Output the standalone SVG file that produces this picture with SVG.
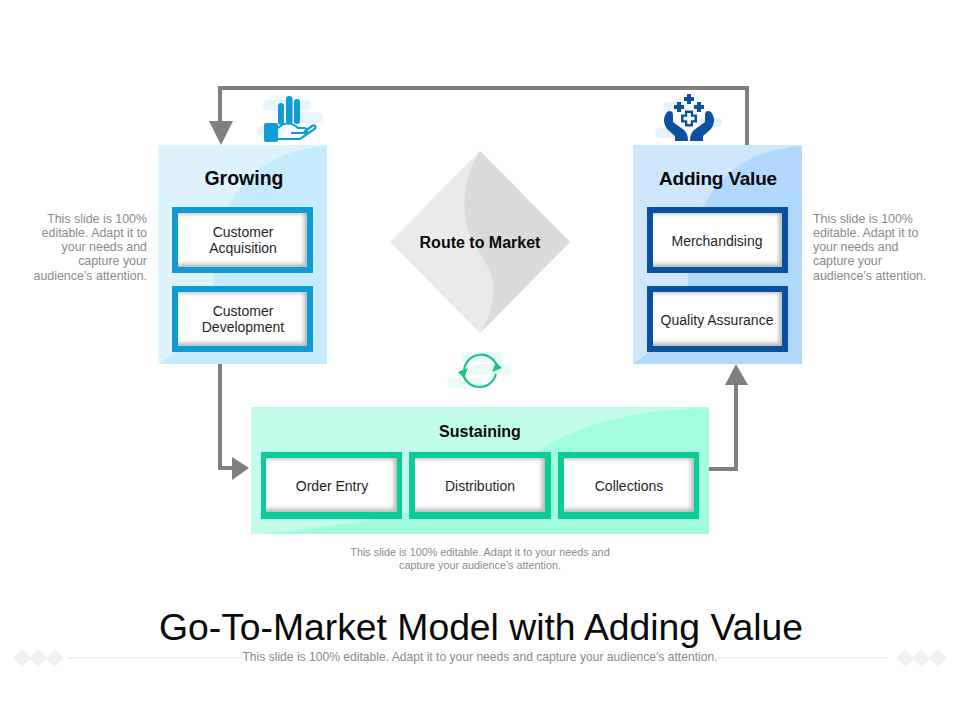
<svg xmlns="http://www.w3.org/2000/svg" width="960" height="720" viewBox="0 0 960 720">
<style>
text{font-family:"Liberation Sans",Arial,sans-serif;text-anchor:middle}
.h{font-size:19.500px;font-weight:700;fill:#0a0a0a}
.b{font-size:14px;fill:#1f1f1f}
.n{font-size:12.400px;fill:#8a8a8a}
.s{font-size:10.800px;fill:#8a8a8a}
.m{font-size:16px;font-weight:700;fill:#0a0a0a}
.con{fill:none;stroke:#7f7f7f;stroke-width:4}
.tip{fill:#7f7f7f}
.inner{fill:#fff;filter:url(#soft)}
.deco{fill:#f0f0f0}
.shade{fill:#b8b8b8}
</style>
<defs>
<filter id="soft" x="-10%" y="-20%" width="120%" height="140%"><feGaussianBlur stdDeviation="2"/></filter>
</defs>
<rect width="960" height="720" fill="#fff"/>

<g id="growing">
<rect x="158" y="145" width="169" height="219" fill="#dff3fd"/>
<path d="M327 146C262 150 213 190 213 285C213 320 180 350 158 364H327Z" fill="#c6ebfd"/>
<text class="h" x="244" y="185">Growing</text>
<g fill="#e8f4fb"><rect x="263" y="100" width="48" height="11" rx="5.500"/><rect x="290" y="112" width="33" height="11" rx="5.500"/><rect x="257" y="126" width="28" height="10" rx="5"/></g>
<g fill="#0f9bd7">
<rect x="278" y="103" width="6" height="22" rx="3"/><rect x="286" y="96" width="6.500" height="28" rx="3.200"/><rect x="294" y="99" width="6" height="25" rx="3"/>
<rect x="264" y="123" width="14" height="19" rx="2"/>
</g>
<path d="M278 128C284 122 292 122 298 128H304C308 128 308 133 304 133H291M304 132L312 126C316 124 317 128 313 130L300 139H278" fill="none" stroke="#0f9bd7" stroke-width="2.200"/>
</g>

<g id="customer-acquisition">
<rect x="172" y="207" width="141" height="66" fill="#0f9bd7"/>
<rect class="shade" x="178" y="213" width="129" height="54"/>
<clipPath id="c1"><rect x="178" y="213" width="129" height="54"/></clipPath>
<g clip-path="url(#c1)"><rect class="inner" x="172" y="214" width="132" height="50"/></g>
<text class="b" x="243" y="237">Customer</text><text class="b" x="243" y="253">Acquisition</text>
</g>
<g id="customer-development">
<rect x="172" y="286" width="141" height="66" fill="#0f9bd7"/>
<rect class="shade" x="178" y="292" width="129" height="54"/>
<clipPath id="c2"><rect x="178" y="292" width="129" height="54"/></clipPath>
<g clip-path="url(#c2)"><rect class="inner" x="172" y="293" width="132" height="50"/></g>
<text class="b" x="243" y="316">Customer</text><text class="b" x="243" y="332">Development</text>
</g>

<g id="adding-value">
<rect x="633" y="145" width="169" height="219" fill="#cfe6fd"/>
<path d="M802 146C737 150 688 190 688 285C688 320 655 350 633 364H802Z" fill="#b2d9fc"/>
<text class="h" x="718" y="185" style="font-size:19px;letter-spacing:-.2px">Adding Value</text>
<g fill="#e8f1fa"><rect x="663" y="102" width="22" height="9" rx="4.500"/><rect x="700" y="118" width="22" height="9" rx="4.500"/><rect x="655" y="128" width="22" height="10" rx="5"/></g>
<path d="M689 94v10M684 99h10M679 102v10M674 107h10M699 102v10M694 107h10" fill="none" stroke="#0c519f" stroke-width="4"/>
<path d="M689 110.500v16M681 118.500h16" fill="none" stroke="#0c519f" stroke-width="8"/>
<path d="M689 113v11M683.500 118.500h11" fill="none" stroke="#fff" stroke-width="3.500"/>
<path d="M667 112C670 110 673 111 673 115V122L684 130C687 133 688 136 688 141H675V136L667 129C663 123 663 117 667 112ZM711 112C708 110 705 111 705 115V122L694 130C691 133 690 136 690 141H703V136L711 129C715 123 715 117 711 112Z" fill="#0c519f"/>
</g>

<g id="merchandising">
<rect x="647" y="207" width="141" height="66" fill="#07519f"/>
<rect class="shade" x="653" y="213" width="129" height="54"/>
<clipPath id="c3"><rect x="653" y="213" width="129" height="54"/></clipPath>
<g clip-path="url(#c3)"><rect class="inner" x="647" y="214" width="132" height="50"/></g>
<text class="b" x="717" y="246">Merchandising</text>
</g>
<g id="quality-assurance">
<rect x="647" y="286" width="141" height="66" fill="#07519f"/>
<rect class="shade" x="653" y="292" width="129" height="54"/>
<clipPath id="c4"><rect x="653" y="292" width="129" height="54"/></clipPath>
<g clip-path="url(#c4)"><rect class="inner" x="647" y="293" width="132" height="50"/></g>
<text class="b" x="717" y="325">Quality Assurance</text>
</g>

<g id="route-to-market">
<path d="M480 151L570 242L480 333L390 242Z" fill="#eaeaea"/>
<path d="M480 151L570 242L480 333C487 322 495 305 493 283C490 260 472 250 466 222C462 200 465 175 480 151Z" fill="#dadada"/>
<text class="m" x="480" y="248">Route to Market</text>
</g>

<g id="sustaining">
<rect x="251" y="407" width="458" height="127" fill="#c2fde9"/>
<path d="M709 408C620 410 560 430 520 465C480 500 400 520 262 534H709Z" fill="#a2fde0"/>
<text class="m" x="480" y="437">Sustaining</text>
</g>
<g id="cycle-icon">
<g fill="#eafbf6"><rect x="460" y="352" width="44" height="10" rx="5"/><rect x="470" y="364" width="42" height="11" rx="5.500"/><rect x="447" y="378" width="36" height="10" rx="5"/></g>
<path d="M464 372A17 17 0 0 1 497 366M496 374A17 17 0 0 1 463 374" fill="none" stroke="#17c297" stroke-width="2.200"/>
<path d="M492 372L496 362L502 368ZM468 368L464 378L458 372Z" fill="#17c297"/>
</g>

<g id="order-entry">
<rect x="261" y="452" width="141" height="67" fill="#0ccb97"/>
<rect class="shade" x="266" y="458" width="131" height="54"/>
<clipPath id="c5"><rect x="266" y="458" width="131" height="54"/></clipPath>
<g clip-path="url(#c5)"><rect class="inner" x="260" y="459" width="134" height="50"/></g>
<text class="b" x="332" y="491">Order Entry</text>
</g>
<g id="distribution">
<rect x="409" y="452" width="142" height="67" fill="#0ccb97"/>
<rect class="shade" x="415" y="458" width="130" height="54"/>
<clipPath id="c6"><rect x="415" y="458" width="130" height="54"/></clipPath>
<g clip-path="url(#c6)"><rect class="inner" x="409" y="459" width="133" height="50"/></g>
<text class="b" x="480" y="491">Distribution</text>
</g>
<g id="collections">
<rect x="558" y="452" width="141" height="67" fill="#0ccb97"/>
<rect class="shade" x="564" y="458" width="130" height="54"/>
<clipPath id="c7"><rect x="564" y="458" width="130" height="54"/></clipPath>
<g clip-path="url(#c7)"><rect class="inner" x="558" y="459" width="133" height="50"/></g>
<text class="b" x="629" y="491">Collections</text>
</g>

<g id="connectors">
<path class="con" d="M747 145V88H220V124"/>
<path class="tip" d="M209 121H233L221 145Z"/>
<path class="con" d="M220 364V468H234"/>
<path class="tip" d="M232 457L249 468L232 480Z"/>
<path class="con" d="M709 469H736V384"/>
<path class="tip" d="M725 385L736 364L748 385Z"/>
</g>

<g id="notes">
<text class="n" x="147" y="223" style="text-anchor:end">This slide is 100%</text>
<text class="n" x="147" y="237" style="text-anchor:end">editable. Adapt it to</text>
<text class="n" x="147" y="251" style="text-anchor:end">your needs and</text>
<text class="n" x="147" y="265" style="text-anchor:end">capture your</text>
<text class="n" x="147" y="280" style="text-anchor:end">audience’s attention.</text>
<text class="n" x="813" y="223" style="text-anchor:start">This slide is 100%</text>
<text class="n" x="813" y="237" style="text-anchor:start">editable. Adapt it to</text>
<text class="n" x="813" y="251" style="text-anchor:start">your needs and</text>
<text class="n" x="813" y="265" style="text-anchor:start">capture your</text>
<text class="n" x="813" y="280" style="text-anchor:start">audience’s attention.</text>
<text class="s" x="480" y="556">This slide is 100% editable.  Adapt it to your needs and</text>
<text class="s" x="480" y="569">capture your audience’s attention.</text>
</g>

<g id="title">
<path class="deco" d="M68 657H242V659H68ZM717 657H888V659H717Z"/>
<path class="deco" d="M22 649L31 658L22 667L13 658ZM38 649L47 658L38 667L29 658ZM55 649L64 658L55 667L46 658ZM905 649L914 658L905 667L896 658ZM921 649L930 658L921 667L912 658ZM938 649L947 658L938 667L929 658Z"/>
<text x="481" y="640" style="font-size:37.300px;fill:#0a0a0a">Go-To-Market Model with Adding Value</text>
<text class="n" x="480" y="661" style="font-size:12.100px">This slide is 100% editable. Adapt it to your needs and capture your audience’s attention.</text>
</g>
</svg>
